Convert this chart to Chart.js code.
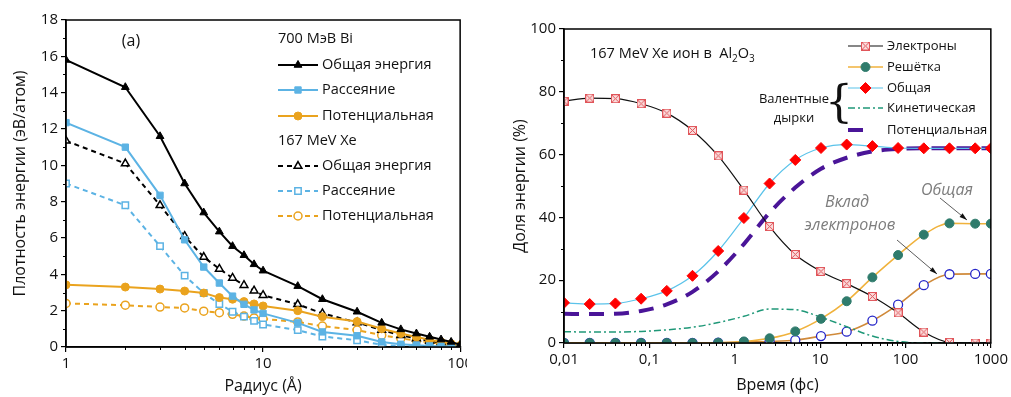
<!DOCTYPE html>
<html>
<head>
<meta charset="utf-8">
<script src="https://cdn.jsdelivr.net/npm/chart.js"></script>
<style>
  body { margin: 0; background: #fff; }
  #wrapL { position: absolute; left: 0; top: 0; width: 467px; height: 397px; overflow: hidden; }
  #wrapR { position: absolute; left: 500px; top: 0; width: 511px; height: 397px; }
</style>
</head>
<body>
<div id="wrapL"><canvas id="left" width="476" height="397"></canvas></div>
<div id="wrapR"><canvas id="right" width="511" height="397"></canvas></div>
<script>
// panel (a): energy density vs radius
const leftRadius = [1, 2, 3, 4, 5, 6, 7, 8, 9, 10, 15, 20, 30, 40, 50, 60, 70, 80, 90, 100];
const biTotal = [15.8, 14.3, 11.6, 9.0, 7.4, 6.35, 5.55, 5.05, 4.55, 4.2, 3.35, 2.63, 1.94, 1.33, 0.97, 0.74, 0.56, 0.41, 0.28, 0.12];
const biScatter = [12.35, 11.0, 8.35, 5.9, 4.4, 3.52, 2.8, 2.35, 2.04, 1.85, 1.33, 0.83, 0.62, 0.28, 0.15, 0.1, 0.06, 0.04, 0.02, 0.01];
const biPotential = [3.42, 3.3, 3.19, 3.08, 2.97, 2.72, 2.63, 2.5, 2.37, 2.26, 2.0, 1.67, 1.4, 1.0, 0.74, 0.55, 0.4, 0.28, 0.18, 0.08];
const xeTotal = [11.35, 10.1, 7.8, 6.1, 4.95, 4.3, 3.8, 3.4, 3.1, 2.85, 2.35, 1.85, 1.35, 0.93, 0.65, 0.47, 0.33, 0.25, 0.15, 0.06];
const xeScatter = [9.0, 7.8, 5.55, 3.93, 2.97, 2.37, 1.94, 1.67, 1.44, 1.24, 0.93, 0.58, 0.37, 0.12, 0.05, 0.03, 0.02, 0.01, 0.01, 0.0];
const xePotential = [2.4, 2.3, 2.2, 2.15, 1.97, 1.89, 1.8, 1.7, 1.6, 1.55, 1.38, 1.15, 0.93, 0.65, 0.47, 0.35, 0.25, 0.18, 0.1, 0.04];
const leftXTicks = [1, 10, 100];
const leftYTicks = [0, 2, 4, 6, 8, 10, 12, 14, 16, 18];

// panel (b): energy share vs time
const times = [0.01, 0.02, 0.04, 0.08, 0.16, 0.32, 0.64, 1.28, 2.56, 5.12, 10.24, 20.48, 40.96, 81.92, 163.84, 327.68, 655.36, 1000];
const electrons = [77, 78, 77.8, 76.2, 73.2, 67.7, 59.6, 48.7, 37.1, 28.2, 22.8, 18.9, 14.8, 9.6, 3.5, 0.2, 0, 0];
const lattice = [0, 0, 0, 0, 0, 0, 0.1, 0.5, 1.5, 3.7, 7.7, 13.3, 20.9, 28.0, 34.5, 38.1, 38, 38];
const holesTotal = [12.8, 12.4, 12.6, 14.1, 16.6, 21.4, 29.3, 39.8, 50.8, 58.3, 62.1, 63.2, 62.7, 62.1, 62, 62, 62, 62];
const holesKinetic = [3.6, 3.5, 3.5, 3.7, 4.2, 5.0, 6.5, 8.5, 10.8, 10.6, 8.2, 5.2, 2.2, 0.5, 0, 0, 0, 0];
const holesPotential = [9.3, 9.2, 9.3, 10.2, 12.3, 16.3, 22.8, 31.5, 41.5, 49.5, 55.5, 59, 61, 61.8, 62, 62, 62, 62];
const electronShare = [0, 0, 0, 0, 0, 0, 0.1, 0.3, 0.5, 0.9, 2.2, 3.6, 7.1, 12.2, 18.4, 21.9, 22, 22];
const rightXTicks = [0.01, 0.1, 1, 10, 100, 1000];
const rightYTicks = [0, 20, 40, 60, 80, 100];

const FONT = '"Open Sans", sans-serif';

function pts(xs, ys) {
  return xs.map((x, i) => ({ x: x, y: ys[i] }));
}

function decadeMinors(min, max) {
  const out = [];
  for (let d = min; d < max * 0.999; d *= 10) {
    for (let k = 2; k <= 9; k++) out.push(d * k);
  }
  return out;
}

// small marker for the electron series: pink square with a cross
const boxX = document.createElement('canvas');
boxX.width = 9; boxX.height = 9;
(function () {
  const c = boxX.getContext('2d');
  c.fillStyle = '#fadcdc';
  c.fillRect(0.5, 0.5, 8, 8);
  c.strokeStyle = '#e0555a';
  c.lineWidth = 1;
  c.strokeRect(0.5, 0.5, 8, 8);
  c.beginPath();
  c.moveTo(1, 1); c.lineTo(8, 8);
  c.moveTo(8, 1); c.lineTo(1, 8);
  c.stroke();
})();

function legendRow(ctx, ds, x1, x2, y, text, size, lineEnd) {
  ctx.save();
  ctx.strokeStyle = ds.borderColor;
  ctx.lineWidth = ds.borderWidth;
  ctx.setLineDash(ds.borderDash || []);
  ctx.beginPath();
  ctx.moveTo(x1, y);
  ctx.lineTo(lineEnd || x2, y);
  ctx.stroke();
  ctx.setLineDash([]);
  if (ds.pointRadius > 0) {
    ctx.fillStyle = ds.pointBackgroundColor;
    ctx.strokeStyle = ds.pointBorderColor;
    ctx.lineWidth = ds.pointBorderWidth;
    Chart.helpers.drawPoint(ctx, {
      pointStyle: ds.pointStyle, radius: ds.pointRadius, rotation: 0, borderWidth: ds.pointBorderWidth
    }, (x1 + x2) / 2, y);
  }
  ctx.fillStyle = '#111';
  ctx.font = size + 'px ' + FONT;
  ctx.textAlign = 'left';
  ctx.textBaseline = 'middle';
  ctx.fillText(text, x2 + 4, y);
  ctx.restore();
}

function arrow(ctx, x1, y1, x2, y2) {
  const a = Math.atan2(y2 - y1, x2 - x1);
  ctx.save();
  ctx.strokeStyle = '#333';
  ctx.fillStyle = '#111';
  ctx.lineWidth = 0.8;
  ctx.beginPath();
  ctx.moveTo(x1, y1);
  ctx.lineTo(x2, y2);
  ctx.stroke();
  ctx.beginPath();
  ctx.moveTo(x2, y2);
  ctx.lineTo(x2 - 8 * Math.cos(a - 0.3), y2 - 8 * Math.sin(a - 0.3));
  ctx.lineTo(x2 - 8 * Math.cos(a + 0.3), y2 - 8 * Math.sin(a + 0.3));
  ctx.closePath();
  ctx.fill();
  ctx.restore();
}

// frame round the plot and short minor ticks
function framePlugin(minors) {
  return {
    id: 'frame',
    afterDraw(chart) {
      const ctx = chart.ctx;
      const a = chart.chartArea;
      ctx.save();
      ctx.strokeStyle = '#000';
      ctx.lineWidth = 1.5;
      ctx.strokeRect(a.left, a.top, a.right - a.left, a.bottom - a.top);
      ctx.lineWidth = 1;
      ctx.beginPath();
      minors.x.forEach(v => {
        const px = Math.round(chart.scales.x.getPixelForValue(v)) + 0.5;
        ctx.moveTo(px, a.bottom);
        ctx.lineTo(px, a.bottom + 3);
      });
      minors.y.forEach(v => {
        const py = Math.round(chart.scales.y.getPixelForValue(v)) + 0.5;
        ctx.moveTo(a.left, py);
        ctx.lineTo(a.left - 3, py);
      });
      ctx.stroke();
      ctx.restore();
    }
  };
}

function axisOpts(kind, min, max, tickList, fitSize, title, titlePad, fmt) {
  return {
    type: kind,
    min: min,
    max: max,
    afterBuildTicks: s => { s.ticks = tickList.map(v => ({ value: v })); },
    afterFit: s => {
      if (s.isHorizontal()) s.height = fitSize; else s.width = fitSize;
    },
    ticks: {
      autoSkip: false, maxRotation: 0, color: '#111', padding: 3,
      font: { family: FONT, size: 15 },
      callback: fmt
    },
    grid: { drawOnChartArea: false, tickLength: 5, color: '#000', lineWidth: 1.2 },
    border: { color: '#000', width: 1.5 },
    title: {
      display: true, text: title, color: '#111',
      font: { family: FONT, size: 16 }, padding: titlePad
    }
  };
}

const common = {
  responsive: false,
  animation: false,
  events: [],
  plugins: { legend: { display: false }, tooltip: { enabled: false } }
};

// ---------- panel (a)
const leftSets = [
  { label: 'Общая энергия', data: pts(leftRadius, biTotal), borderColor: '#000', borderWidth: 2,
    pointStyle: 'triangle', pointRadius: 4.5, pointBackgroundColor: '#000', pointBorderColor: '#000', pointBorderWidth: 1 },
  { label: 'Рассеяние', data: pts(leftRadius, biScatter), borderColor: '#5cb3e4', borderWidth: 2,
    pointStyle: 'rect', pointRadius: 4.5, pointBackgroundColor: '#5cb3e4', pointBorderColor: '#5cb3e4', pointBorderWidth: 1 },
  { label: 'Потенциальная', data: pts(leftRadius, biPotential), borderColor: '#eaa31e', borderWidth: 2,
    pointStyle: 'circle', pointRadius: 4, pointBackgroundColor: '#eaa31e', pointBorderColor: '#eaa31e', pointBorderWidth: 1 },
  { label: 'Общая энергия', data: pts(leftRadius, xeTotal), borderColor: '#000', borderWidth: 2, borderDash: [5, 4],
    pointStyle: 'triangle', pointRadius: 4.5, pointBackgroundColor: '#fff', pointBorderColor: '#000', pointBorderWidth: 1.5 },
  { label: 'Рассеяние', data: pts(leftRadius, xeScatter), borderColor: '#5cb3e4', borderWidth: 2, borderDash: [5, 4],
    pointStyle: 'rect', pointRadius: 4.5, pointBackgroundColor: '#fff', pointBorderColor: '#5cb3e4', pointBorderWidth: 1.5 },
  { label: 'Потенциальная', data: pts(leftRadius, xePotential), borderColor: '#eaa31e', borderWidth: 2, borderDash: [5, 4],
    pointStyle: 'circle', pointRadius: 4, pointBackgroundColor: '#fff', pointBorderColor: '#eaa31e', pointBorderWidth: 1.5 }
];

const leftNotes = {
  id: 'leftNotes',
  afterDraw(chart) {
    const ctx = chart.ctx;
    ctx.save();
    ctx.fillStyle = '#111';
    ctx.font = '16px ' + FONT;
    ctx.textAlign = 'center';
    ctx.textBaseline = 'middle';
    ctx.fillText('(a)', 131, 41);
    ctx.font = '14.5px ' + FONT;
    ctx.textAlign = 'left';
    ctx.fillText('700 МэВ Bi', 278, 39);
    ctx.fillText('167 MeV Xe', 278, 141);
    ctx.restore();
    const rows = [65, 90, 116, 166, 191, 216];
    leftSets.forEach((ds, i) => legendRow(ctx, ds, 278, 318, rows[i], ds.label, 14.5));
  }
};

new Chart(document.getElementById('left'), {
  type: 'line',
  data: { datasets: leftSets },
  options: Object.assign({}, common, {
    layout: { padding: { top: 20, right: 0, left: 0, bottom: 0 }, autoPadding: false },
    scales: {
      x: axisOpts('logarithmic', 1, 100, leftXTicks, 50, 'Радиус (Å)', { top: 0, bottom: 1 }, v => String(v)),
      y: axisOpts('linear', 0, 18, leftYTicks, 66, 'Плотность энергии (эВ/атом)', { top: 11, bottom: 0 }, v => String(v))
    }
  }),
  plugins: [framePlugin({ x: decadeMinors(1, 100), y: [1, 3, 5, 7, 9, 11, 13, 15, 17] }), leftNotes]
});

// ---------- panel (b)
const smooth = { cubicInterpolationMode: 'monotone' };
const rightSets = [
  Object.assign({ label: 'Электроны', data: pts(times, electrons), borderColor: '#111', borderWidth: 1.2,
    pointStyle: boxX, pointRadius: 5, pointBackgroundColor: '#fadcdc', pointBorderColor: '#e0555a', pointBorderWidth: 1 }, smooth),
  Object.assign({ label: 'Решётка', data: pts(times, lattice), borderColor: '#f0b23c', borderWidth: 1.6,
    pointStyle: 'circle', pointRadius: 4.5, pointBackgroundColor: '#2f7b6c', pointBorderColor: '#2f7b6c', pointBorderWidth: 1 }, smooth),
  Object.assign({ label: 'Общая', data: pts(times, holesTotal), borderColor: '#5bc3ea', borderWidth: 1.2,
    pointStyle: 'rectRot', pointRadius: 5.5, pointBackgroundColor: '#ff0000', pointBorderColor: '#ff0000', pointBorderWidth: 1 }, smooth),
  Object.assign({ label: 'Кинетическая', data: pts(times, holesKinetic), borderColor: '#1f9878', borderWidth: 1.5,
    borderDash: [7, 3, 2, 3], pointRadius: 0 }, smooth),
  Object.assign({ label: 'Потенциальная', data: pts(times, holesPotential), borderColor: '#4a1598', borderWidth: 4,
    borderDash: [15, 10], pointRadius: 0 }, smooth),
  Object.assign({ label: 'Вклад электронов', data: pts(times, electronShare), borderColor: '#d08a3a', borderWidth: 1.6,
    pointStyle: 'circle', pointRadius: 4.5, pointBackgroundColor: '#fff', pointBorderColor: '#2525c8', pointBorderWidth: 1.3 }, smooth)
];

const rightNotes = {
  id: 'rightNotes',
  afterDraw(chart) {
    const ctx = chart.ctx;
    ctx.save();
    ctx.fillStyle = '#111';
    ctx.textBaseline = 'middle';
    ctx.textAlign = 'left';
    // title with subscripts
    let x = 90;
    const y = 54;
    ctx.font = '14.5px ' + FONT;
    const head = '167 MeV Xe ион в  Al';
    ctx.fillText(head, x, y); x += ctx.measureText(head).width;
    ctx.font = '10px ' + FONT;
    ctx.fillText('2', x, y + 5); x += ctx.measureText('2').width;
    ctx.font = '14.5px ' + FONT;
    ctx.fillText('O', x, y); x += ctx.measureText('O').width;
    ctx.font = '10px ' + FONT;
    ctx.fillText('3', x, y + 5);

    ctx.font = '13px ' + FONT;
    ctx.textAlign = 'center';
    ctx.fillText('Валентные', 294, 99);
    ctx.fillText('дырки', 294, 118);
    ctx.font = '44px "DejaVu Serif", serif';
    ctx.fillText('{', 339, 106);

    ctx.fillStyle = '#7d7d7d';
    ctx.font = 'italic 16px ' + FONT;
    ctx.fillText('Вклад', 347, 202);
    ctx.fillText('электронов', 350, 225);
    ctx.fillText('Общая', 447, 190);
    ctx.restore();

    arrow(ctx, 440, 198, 467, 220);
    arrow(ctx, 397, 240, 437, 274);

    const rows = [46, 67, 88, 108, 130];
    for (let i = 0; i < 5; i++) {
      legendRow(ctx, rightSets[i], 348, 383, rows[i], rightSets[i].label, 13, i === 4 ? 368 : null);
    }
  }
};

new Chart(document.getElementById('right'), {
  type: 'line',
  data: { datasets: rightSets },
  options: Object.assign({}, common, {
    layout: { padding: { top: 29, right: 19, left: 0, bottom: 0 }, autoPadding: false },
    scales: {
      x: axisOpts('logarithmic', 0.01, 1000, rightXTicks, 54, 'Время (фс)', { top: 0, bottom: 2 }, v => String(v).replace('.', ',')),
      y: axisOpts('linear', 0, 100, rightYTicks, 64, 'Доля энергии (%)', { top: 11, bottom: 0 }, v => String(v))
    }
  }),
  plugins: [framePlugin({ x: decadeMinors(0.01, 1000), y: [10, 30, 50, 70, 90] }), rightNotes]
});
</script>
</body>
</html>
